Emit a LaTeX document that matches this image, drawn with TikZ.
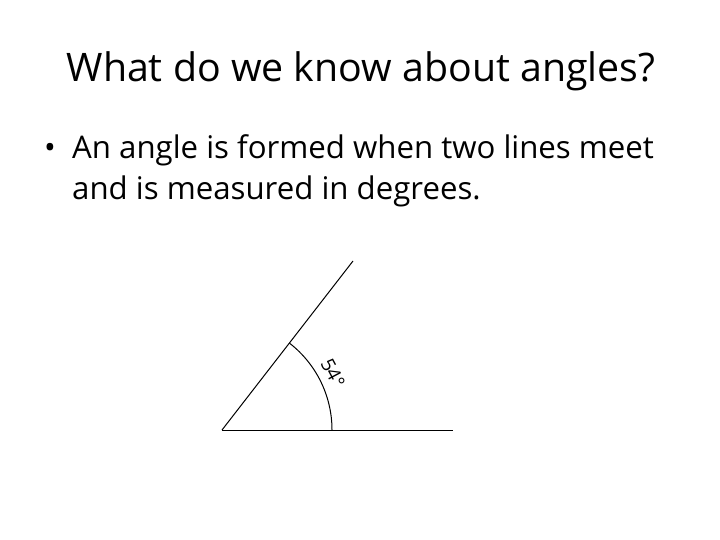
\documentclass[tikz,border=0pt]{standalone}
\usepackage{fontspec}
\setmainfont{Open Sans}
\usetikzlibrary{positioning}
\tikzstyle{heading} = [anchor=base, font=\fontsize{39.3}{47}\selectfont, inner sep=0pt]
\tikzstyle{bodytext} = [anchor=base west, font=\fontsize{31.2}{41}\selectfont, inner sep=0pt, align=left]
\tikzstyle{ray} = [line width=1pt, draw]
\tikzset{
	degree/.style={font=\fontsize{19}{19}\selectfont, inner sep=0pt, rotate=-62},
}
\begin{document}
\begin{tikzpicture}[x=1pt, y=-1pt]
\useasboundingbox (0,0) rectangle (720,540);

\node [heading] (title) at (361,82) {What do we know about angles?};
\node [bodytext] (bullet) at (44,159) {\textbullet};
\node [bodytext] (line1) at (72,159) {An angle is formed when two lines meet};
\node [bodytext] (line2) at (72,200) {and is measured in degrees.};

%angle
\coordinate (v) at (222,430);
\coordinate (base) at (453,430);
\coordinate (tip) at (353,261);
\coordinate (arcstart) at (332,430);

\path [ray] (v) -- (base);
\path [ray] (v) -- (tip);
\path [ray] (arcstart) arc (0:-52.2:110);

\node [degree] (label) at (333,373) {54°};

\end{tikzpicture}
\end{document}
